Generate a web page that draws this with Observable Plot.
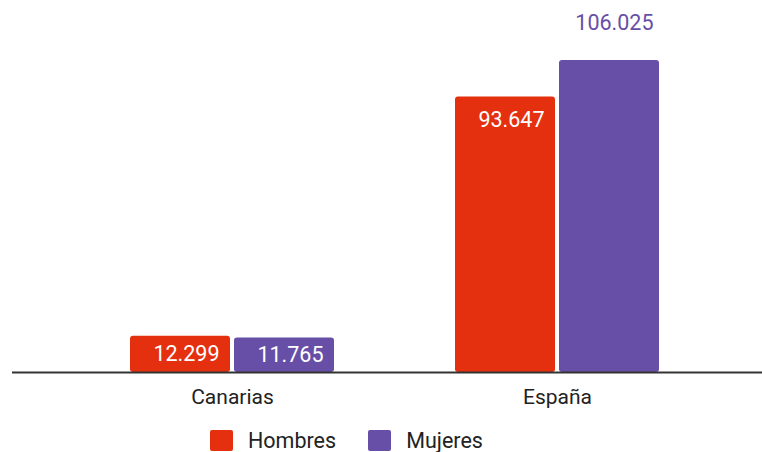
<!DOCTYPE html>
<html>
<head>
<meta charset="utf-8">
<script src="https://cdn.jsdelivr.net/npm/d3@7"></script>
<script src="https://cdn.jsdelivr.net/npm/@observablehq/plot@0.6"></script>
<style>
  html, body { margin: 0; padding: 0; background: #fff; }
  #wrap { position: relative; width: 762px; height: 452px; overflow: hidden; font-family: Roboto, sans-serif; }
  #legend { position: absolute; left: 210px; top: 430px; display: flex; align-items: center; font-size: 21.5px; line-height: 21px; color: #222; }
  .item { display: flex; align-items: center; margin-right: 32px; height: 21px; }
  .sw { width: 23px; height: 21px; border-radius: 2px; margin-right: 15px; }
</style>
</head>
<body>
<div id="wrap"><div id="chart"></div><div id="legend"></div></div>
<script>
const regions = ["Canarias", "España"];
const series = ["Hombres", "Mujeres"];
const hombres = [12299, 93647];
const mujeres = [11765, 106025];
const colors = ["#e5300f", "#674ea7"];

const data = regions.flatMap((r, i) => [
  {region: r, sexo: series[0], value: hombres[i]},
  {region: r, sexo: series[1], value: mujeres[i]}
]);

const es = d3.formatLocale({decimal: ",", thousands: ".", grouping: [3], currency: ["", "€"]});
const fmt = es.format(",d");

const plot = Plot.plot({
  width: 762,
  height: 420,
  marginTop: 0,
  marginBottom: 48,
  marginLeft: 12,
  marginRight: 0,
  style: {fontFamily: "Roboto, sans-serif", fontSize: "21px", color: "#222", background: "transparent"},
  fx: {domain: regions, range: [27, 762], paddingInner: 0.3723, paddingOuter: 0.3169, label: null, axis: "bottom", tickSize: 0, tickPadding: 17},
  x: {domain: series, paddingInner: 4 / 104, paddingOuter: 0, axis: null},
  y: {domain: [0, 126400], axis: null},
  color: {domain: series, range: colors},
  marks: [
    Plot.barY(data, {fx: "region", x: "sexo", y: "value", fill: "sexo", rx: 3}),
    Plot.text(data.filter(d => d.value < 50000), {
      fx: "region", x: "sexo", y: d => d.value / 2, text: d => fmt(d.value),
      fill: "white", textAnchor: "end", dx: 39, fontSize: 21.5
    }),
    Plot.text(data.filter(d => d.value >= 50000 && d.value < 100000), {
      fx: "region", x: "sexo", y: "value", text: d => fmt(d.value),
      fill: "white", textAnchor: "end", dx: 39, dy: 23, fontSize: 21.5
    }),
    Plot.text(data.filter(d => d.value >= 100000), {
      fx: "region", x: "sexo", y: "value", text: d => fmt(d.value),
      fill: colors[1], textAnchor: "end", dx: 44, dy: -37, fontSize: 21.5
    })
  ]
});

// Baseline across the full width, positioned with the plot's y scale
const y0 = plot.scale("y").apply(0);
d3.select(plot).append("line")
  .attr("x1", 12).attr("x2", 762)
  .attr("y1", y0 + 0.5).attr("y2", y0 + 0.5)
  .attr("stroke", "#333").attr("stroke-width", 2);

document.getElementById("chart").appendChild(plot);

const legend = document.getElementById("legend");
series.forEach((s, i) => {
  const item = document.createElement("div");
  item.className = "item";
  const sw = document.createElement("div");
  sw.className = "sw";
  sw.style.background = colors[i];
  const t = document.createElement("span");
  t.textContent = s;
  item.appendChild(sw);
  item.appendChild(t);
  legend.appendChild(item);
});
</script>
</body>
</html>
